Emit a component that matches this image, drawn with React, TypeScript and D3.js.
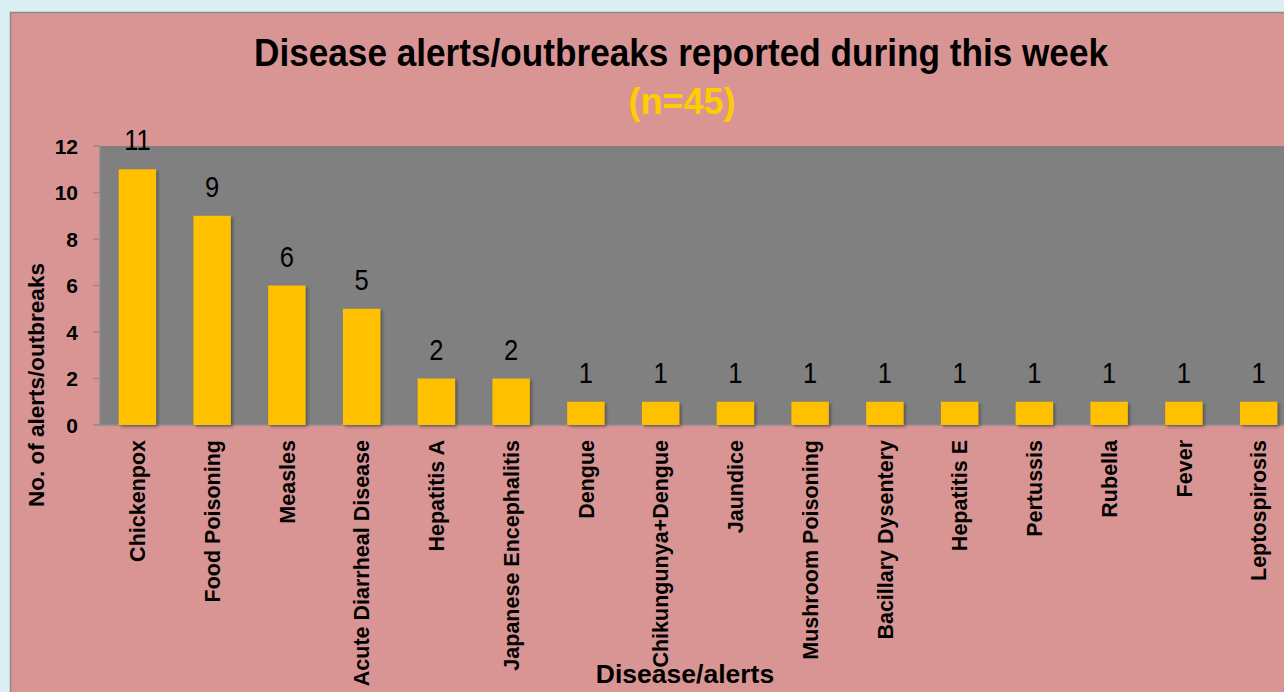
import React from "react";
import * as d3 from "d3";

const categories = [
  "Chickenpox", "Food Poisoning", "Measles", "Acute Diarrheal Disease", "Hepatitis A",
  "Japanese Encephalitis", "Dengue", "Chikungunya+Dengue", "Jaundice", "Mushroom Poisoning",
  "Bacillary Dysentery", "Hepatitis E", "Pertussis", "Rubella", "Fever", "Leptospirosis",
];
const values = [11, 9, 6, 5, 2, 2, 1, 1, 1, 1, 1, 1, 1, 1, 1, 1];
const yTicks = [0, 2, 4, 6, 8, 10, 12];
const titleText = "Disease alerts/outbreaks reported during this week";
const subtitleText = "(n=45)";
const xTitle = "Disease/alerts";
const yTitle = "No. of alerts/outbreaks";

const W = 1284;
const H = 692;
const plotLeft = 100;
const plotTop = 146;
const plotBottom = 425;
const step = 74.75;
const bold = "'Liberation Sans Narrow', 'Liberation Sans', Arial, sans-serif";
const regular = "'Liberation Sans', Arial, sans-serif";

export default function App() {
  const x = d3
    .scaleBand<string>()
    .domain(categories)
    .range([plotLeft, plotLeft + step * categories.length])
    .paddingInner(0.5)
    .paddingOuter(0.25);
  const y = d3.scaleLinear().domain([0, 12]).range([plotBottom, plotTop]);
  const plotRight = plotLeft + step * categories.length;

  return (
    <svg
      width={W}
      height={H}
      style={{ position: "absolute", left: 0, top: 0, display: "block" }}
    >
      <defs>
        <filter id="sh" x="-20%" y="-20%" width="150%" height="150%">
          <feDropShadow dx="2" dy="2" stdDeviation="1.5" floodColor="#000" floodOpacity="0.35" />
        </filter>
      </defs>
      <rect x={0} y={0} width={W} height={H} fill="#dbeef4" />
      <rect x={10.5} y={12.5} width={W} height={H} fill="#d99594" stroke="#8c8c8c" strokeWidth={1.5} />
      <rect x={plotLeft} y={plotTop} width={plotRight - plotLeft} height={plotBottom - plotTop} fill="#808080" />
      <line x1={plotLeft} x2={plotLeft} y1={plotTop} y2={plotBottom} stroke="#8c8c8c" strokeWidth={1.5} />
      <line x1={plotLeft} x2={plotRight} y1={plotBottom} y2={plotBottom} stroke="#8c8c8c" strokeWidth={1.5} />
      {yTicks.map((t) => (
        <g key={t}>
          <line x1={93} x2={plotLeft} y1={y(t)} y2={y(t)} stroke="#8c8c8c" strokeWidth={1.5} />
          <text
            x={78}
            y={y(t)}
            dy="0.36em"
            textAnchor="end"
            fontFamily={bold}
            fontWeight="bold"
            fontSize={21}
            fill="#000"
          >
            {t}
          </text>
        </g>
      ))}
      {categories.map((c, i) => {
        const bx = x(c)!;
        const bw = x.bandwidth();
        const cx = bx + bw / 2;
        const ty = y(values[i]) - 19;
        return (
          <g key={c}>
            <rect
              x={bx}
              y={y(values[i])}
              width={bw}
              height={y(0) - y(values[i])}
              fill="#ffc000"
              filter="url(#sh)"
            />
            <text
              transform={`translate(${cx},${ty}) scale(0.88,1)`}
              textAnchor="middle"
              fontFamily={regular}
              fontSize={29}
              fill="#000"
            >
              {values[i]}
            </text>
            <text
              transform={`translate(${cx + 7.7},440) rotate(-90)`}
              textAnchor="end"
              fontFamily={bold}
              fontWeight="bold"
              fontSize={21.5}
              fill="#000"
            >
              {c}
            </text>
          </g>
        );
      })}
      <text
        x={681}
        y={66}
        textAnchor="middle"
        fontFamily={bold}
        fontWeight="bold"
        fontSize={38}
        fill="#000"
        textLength={854}
        lengthAdjust="spacingAndGlyphs"
      >
        {titleText}
      </text>
      <text
        x={682}
        y={114}
        textAnchor="middle"
        fontFamily={bold}
        fontWeight="bold"
        fontSize={36}
        fill="#ffcc00"
      >
        {subtitleText}
      </text>
      <text
        x={685}
        y={683}
        textAnchor="middle"
        fontFamily={bold}
        fontWeight="bold"
        fontSize={26.5}
        fill="#000"
      >
        {xTitle}
      </text>
      <text
        transform={`translate(44,385) rotate(-90)`}
        textAnchor="middle"
        fontFamily={bold}
        fontWeight="bold"
        fontSize={22.5}
        fill="#000"
      >
        {yTitle}
      </text>
    </svg>
  );
}
